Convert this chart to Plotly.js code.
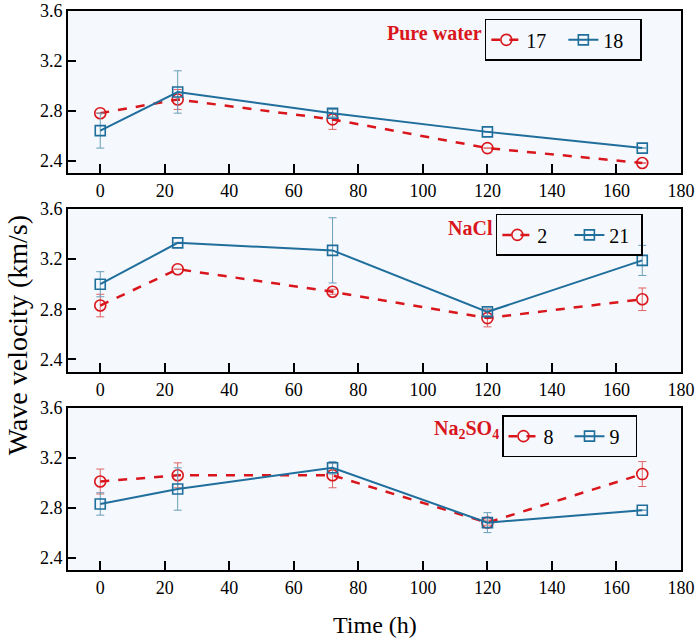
<!DOCTYPE html>
<html>
<head>
<meta charset="utf-8">
<script src="https://cdn.plot.ly/plotly-3.0.1.min.js"></script>
<style>
  body { margin: 0; background: #fff; }
  #plot { width: 699px; height: 643px; }
</style>
</head>
<body>
<div id="plot"></div>
<script>
// time points (h)
const timeH = [0, 24, 72, 120, 168];

// pure water, samples 17 and 18
const water17 = [2.78, 2.89, 2.73, 2.5, 2.38];
const water17Err = [0, 0.08, 0.08, 0, 0];
const water18 = [2.64, 2.95, 2.78, 2.63, 2.5];
const water18Err = [0.14, 0.17, 0.03, 0, 0];

// NaCl, samples 2 and 21
const nacl2 = [2.83, 3.12, 2.94, 2.73, 2.88];
const nacl2Err = [0.09, 0, 0.02, 0.07, 0.09];
const nacl21 = [3.0, 3.33, 3.27, 2.78, 3.19];
const nacl21Err = [0.1, 0, 0.26, 0.03, 0.12];

// Na2SO4, samples 8 and 9
const sulf8 = [3.01, 3.06, 3.06, 2.68, 3.07];
const sulf8Err = [0.1, 0.1, 0.1, 0.02, 0.1];
const sulf9 = [2.83, 2.95, 3.12, 2.68, 2.78];
const sulf9Err = [0.09, 0.17, 0.05, 0.08, 0];

const panelLabels = ["Pure water", "NaCl", "Na<sub>2</sub>SO<sub>4</sub>"];
const seriesNames = [["17", "18"], ["2", "21"], ["8", "9"]];

const RED = "#d9161c";
const BLUE = "#1f6e9c";
const FONT = "Liberation Serif, Times New Roman, serif";

// dashed red line with open circles
function redTrace(y, err, name, ax, legend) {
  return {
    x: timeH, y: y, name: name, type: "scatter", mode: "lines+markers",
    xaxis: "x" + ax, yaxis: "y" + ax, legend: legend,
    line: { color: RED, width: 2.5, dash: "dash" },
    marker: { symbol: "circle-open", size: 11, color: RED, line: { width: 1.6 } },
    error_y: { type: "data", array: err, visible: true, color: "#e06466", thickness: 1, width: 4 }
  };
}

// solid blue line with open squares
function blueTrace(y, err, name, ax, legend) {
  return {
    x: timeH, y: y, name: name, type: "scatter", mode: "lines+markers",
    xaxis: "x" + ax, yaxis: "y" + ax, legend: legend,
    line: { color: BLUE, width: 2 },
    marker: { symbol: "square-open", size: 10, color: BLUE, line: { width: 1.6 } },
    error_y: { type: "data", array: err, visible: true, color: "#6a9fb8", thickness: 1, width: 4 }
  };
}

let data = [
  redTrace(water17, water17Err, seriesNames[0][0], "", "legend"),
  blueTrace(water18, water18Err, seriesNames[0][1], "", "legend"),
  redTrace(nacl2, nacl2Err, seriesNames[1][0], "2", "legend2"),
  blueTrace(nacl21, nacl21Err, seriesNames[1][1], "2", "legend2"),
  redTrace(sulf8, sulf8Err, seriesNames[2][0], "3", "legend3"),
  blueTrace(sulf9, sulf9Err, seriesNames[2][1], "3", "legend3")
];

function xAxis(anchor) {
  return {
    anchor: anchor, range: [-10, 180], tick0: 0, dtick: 20,
    showline: true, mirror: true, linecolor: "#000", linewidth: 2,
    ticks: "inside", ticklen: 9, tickwidth: 2, tickcolor: "#000",
    showgrid: false, zeroline: false,
    tickfont: { family: FONT, size: 18, color: "#000" }
  };
}

function yAxis(anchor, domain) {
  return {
    anchor: anchor, domain: domain, range: [2.3, 3.6], tick0: 2.4, dtick: 0.4,
    tickformat: ".1f",
    showline: true, mirror: true, linecolor: "#000", linewidth: 2,
    ticks: "inside", ticklen: 8, tickwidth: 2, tickcolor: "#000",
    showgrid: false, zeroline: false,
    tickfont: { family: FONT, size: 18, color: "#000" }
  };
}

function legendBox(x, y, entry) {
  return {
    x: x, y: y, xanchor: "left", yanchor: "top", orientation: "h",
    bgcolor: "rgba(0,0,0,0)", bordercolor: "#000", borderwidth: 1.5,
    font: { family: FONT, size: 20, color: "#000" },
    entrywidth: entry, entrywidthmode: "pixels", tracegroupgap: 0
  };
}

const legendPos = [[0.680, 0.986], [0.698, 0.637], [0.708, 0.277]];
const legendEntry = [32, 27, 21];

let annotations = panelLabels.map((label, i) => ({
  text: "<b>" + label + "</b>",
  xref: "paper", yref: "paper",
  x: legendPos[i][0] - 0.002, y: legendPos[i][1] - 0.026,
  xanchor: "right", yanchor: "middle", showarrow: false,
  font: { family: FONT, size: 20, color: RED }
}));

annotations.push({
  text: "Wave velocity (km/s)", xref: "paper", yref: "paper",
  x: -0.083, y: 0.42, xanchor: "center", yanchor: "middle",
  textangle: -90, showarrow: false,
  font: { family: FONT, size: 28, color: "#000" }
});
annotations.push({
  text: "Time (h)", xref: "paper", yref: "paper",
  x: 0.5, y: -0.098, xanchor: "center", yanchor: "middle",
  showarrow: false,
  font: { family: FONT, size: 24, color: "#000" }
});

let layout = {
  width: 699, height: 643,
  margin: { l: 68, r: 18, t: 11, b: 73 },
  paper_bgcolor: "#fff",
  plot_bgcolor: "#f5f8fc",
  showlegend: true,
  xaxis: xAxis("y"),
  yaxis: yAxis("x", [0.7102, 1]),
  xaxis2: xAxis("y2"),
  yaxis2: yAxis("x2", [0.3542, 0.6458]),
  xaxis3: xAxis("y3"),
  yaxis3: yAxis("x3", [0, 0.2898]),
  legend: legendBox(legendPos[0][0], legendPos[0][1], legendEntry[0]),
  legend2: legendBox(legendPos[1][0], legendPos[1][1], legendEntry[1]),
  legend3: legendBox(legendPos[2][0], legendPos[2][1], legendEntry[2]),
  annotations: annotations
};

Plotly.newPlot("plot", data, layout, { staticPlot: true });
</script>
</body>
</html>
